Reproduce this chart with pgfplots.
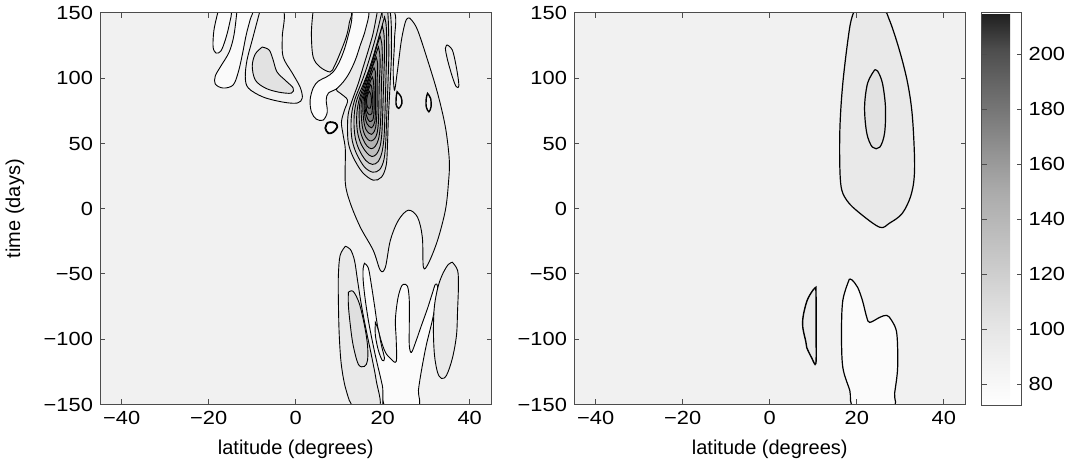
\documentclass[border=0pt]{standalone}
\usepackage{fontspec}
\setmainfont{Liberation Sans}
\newfontfamily\tickfont[FakeStretch=1.15]{Liberation Sans}
\usepackage{pgfplots}
\pgfplotsset{compat=1.18}
\pgfplotsset{
  colormap={mat}{gray(0cm)=(1); gray(1cm)=(0.955); gray(2cm)=(0.91); gray(3cm)=(0.855); gray(4cm)=(0.79); gray(5cm)=(0.73); gray(6cm)=(0.67); gray(7cm)=(0.585); gray(8cm)=(0.49); gray(9cm)=(0.40); gray(10cm)=(0.30); gray(11cm)=(0.12)},
  cbase/.style={scale only axis, width=195.75pt, height=195.75pt,
    xmin=-45, xmax=45, ymin=-150, ymax=150,
    xtick={-40,-20,0,20,40}, xticklabels={−40,−20,0,20,40},
    ytick={-150,-100,-50,0,50,100,150}, yticklabels={−150,−100,−50,0,50,100,150},
    tick align=inside, tick pos=both, major tick length=2.5pt,
    axis background/.style={fill=black!5.5},
    axis on top,
    axis line style={black!70, line width=0.5pt},
    every tick/.style={black!70, line width=0.5pt},
    tick label style={font=\tickfont\fontsize{9.5}{11}\selectfont, text=black},
    label style={font=\fontsize{9}{10}\selectfont},
    xlabel={latitude (degrees)},
    every axis x label/.style={at={(axis description cs:0.5,-0.114)}, anchor=center},
  },
  reg/.style={draw=black, line width=0.45pt, smooth, tension=0.55, fill=#1},
}
\begin{document}
\begin{tikzpicture}
\path[use as bounding box] (0,0) rectangle (536pt,232.5pt);
% ---------------- left panel ----------------
\begin{axis}[cbase, at={(50pt,30.25pt)}, anchor=south west, ylabel={time (days)},
  every axis y label/.style={at={(axis description cs:-0.217,0.5)}, rotate=90, anchor=center}]
% ring c
\addplot[reg=black!5.5] coordinates {(-8.2,152) (-10.0,129.3) (-11.2,114.0) (-11.6,100.9) (-10.9,92.5) (-7.5,85.6) (-2.9,81.7) (0.35,81.0) (1.5,84.8) (1.0,93.2) (-0.8,104.0) (-2.9,116.3) (-3.1,131.6) (-2.9,152) (-8.2,152)} -- cycle;
% lobe a
\addplot[reg=black!2] coordinates {(-17.8,152) (-18.8,137.0) (-19.0,123.9) (-18.3,119.3) (-17.2,120.9) (-16.2,129.3) (-15.3,140.8) (-14.9,152) (-17.8,152)} -- cycle;
% band b
\addplot[reg=black!2] coordinates {(-13.5,152) (-14.2,133.1) (-15.3,120.1) (-17.2,109.4) (-18.5,101.7) (-18.5,95.5) (-16.7,92.5) (-14.4,94.8) (-13.2,104.8) (-12.3,117.8) (-11.4,133.1) (-10.5,144.7) (-10.0,152) (-13.5,152)} -- cycle;
% D1
\addplot[reg=black!11.5] coordinates {(-7.7,123.9) (-9.3,118.6) (-10.0,109.4) (-9.3,98.6) (-7.0,92.5) (-4.0,89.4) (-1.0,88.6) (-0.6,92.5) (-2.2,97.8) (-4.3,104.8) (-5.2,114.0) (-6.1,121.6) (-7.7,123.9)} -- cycle;
% G1 big tongue
\addplot[reg=black!8.5] coordinates {(15.3,152) (22.4,152) (22.7,129.3) (22.4,106.3) (22.7,90.9) (23.4,106.3) (24.3,129.3) (25.2,143.1) (25.9,146.2) (26.6,144.7) (28.0,137.0) (30.3,114.0) (32.6,88.6) (34.4,62.6) (35.3,37.2) (35.1,19.6) (34.4,-1.1) (32.6,-24.2) (30.5,-41.8) (29.35,-44.9) (29.1,-21.8) (28.0,-6.5) (25.9,-1.1) (23.6,-8.8) (21.75,-24.2) (20.6,-44.9) (19.45,-47.2) (17.8,-31.8) (14.85,-14.2) (12.55,4.2) (11.4,19.6) (11.4,44.9) (10.9,56.4) (10.5,66.4) (11.2,75.6) (11.9,83.3) (10.2,88.6) (9.3,91.7) (10.9,98.6) (12.55,110.1) (13.9,125.5) (14.85,140.8) (15.3,152)} -- cycle;
% D2
\addplot[reg=black!8.5] coordinates {(4.0,152) (3.6,134.7) (4.0,116.3) (5.6,108.6) (7.9,104.8) (8.9,109.4) (10.2,119.3) (11.6,131.6) (12.3,142.4) (12.3,152) (4.0,152)} -- cycle;
% W3 white diagonal band
\addplot[reg=black!1.5] coordinates {(13.0,152) (16.7,152) (16.0,137.0) (14.85,125.5) (13.7,114.0) (12.3,104.0) (10.9,97.1) (9.3,91.7) (7.5,88.6) (7.0,83.3) (7.25,74.1) (6.3,67.9) (4.7,68.7) (3.6,74.1) (3.3,83.3) (4.0,92.5) (5.2,97.8) (7.0,100.9) (8.6,104.8) (10.0,112.4) (11.2,122.4) (12.1,133.1) (12.8,143.1) (13.0,152)} -- cycle;
% small white blob
\addplot[reg=black!2, line width=0.9pt] coordinates {(7.25,65.6) (6.8,61.8) (7.5,57.9) (8.6,58.7) (9.55,62.6) (9.1,65.6) (7.9,66.4) (7.25,65.6)} -- cycle;
% ellipse at right
\addplot[reg=black!7] coordinates {(34.8,125.5) (36.0,121.6) (36.9,108.8) (37.5,94.8) (36.9,93.5) (36.0,101.1) (34.9,114.0) (34.4,122.9) (34.8,125.5)} -- cycle;
% peak contours
\addplot[reg=black!12.5] coordinates {(18.8,152) (17.8,134.7) (16.7,121.6) (15.5,108.6) (14.4,96.3) (13.0,83.3) (12.1,73.3) (11.9,62.6) (12.1,50.3) (13.2,39.5) (15.3,28.0) (17.8,21.9) (19.7,24.2) (20.8,33.4) (21.1,50.3) (21.3,70.2) (21.7,96.3) (22.0,121.6) (21.6,152) (18.8,152)} -- cycle;
\addplot[reg=black!16.5] coordinates {(19.9,152) (18.6,134) (17.4,120) (16.1,106) (14.9,95) (13.6,84) (12.9,74) (12.7,63) (13.0,52) (14.0,42) (15.8,32) (17.7,28) (19.3,30) (20.3,38) (20.7,52) (20.9,70) (21.2,96) (21.4,122) (21.1,152) (19.9,152)} -- cycle;
\addplot[reg=black!21] coordinates {(20.4,147) (19.5,136) (18.3,122) (17.0,108) (15.6,96) (14.1,84) (13.5,74) (13.4,64) (13.7,54) (14.6,45) (16.1,37) (17.6,34) (18.9,36) (19.8,43) (20.3,55) (20.5,72) (20.7,96) (20.9,122) (20.8,140) (20.4,147)} -- cycle;
\addplot[reg=black!25.5] coordinates {(19.9,140) (19.0,130) (17.9,117) (16.6,104) (15.6,94) (14.6,84) (14.1,75) (14.0,66) (14.3,57) (15.1,49) (16.3,43) (17.5,40) (18.6,42) (19.4,48) (19.8,58) (20.0,74) (20.2,96) (20.4,118) (20.3,133) (19.9,140)} -- cycle;
\addplot[reg=black!30] coordinates {(19.4,132) (18.6,124) (17.6,112) (16.5,101) (15.7,92) (14.9,84) (14.6,76) (14.6,68) (14.8,60) (15.5,53) (16.4,48) (17.4,46) (18.3,48) (19.0,53) (19.4,62) (19.6,76) (19.7,96) (19.9,114) (19.8,126) (19.4,132)} -- cycle;
\addplot[reg=black!35] coordinates {(19.0,124) (18.3,117) (17.4,107) (16.5,98) (15.8,90) (15.2,84) (15.0,77) (15.1,70) (15.3,63) (15.8,57) (16.6,53) (17.4,52) (18.2,54) (18.7,58) (19.0,66) (19.1,78) (19.2,96) (19.4,110) (19.3,119) (19.0,124)} -- cycle;
\addplot[reg=black!40] coordinates {(18.5,116) (17.9,111) (17.1,103) (16.4,95) (15.9,89) (15.5,84) (15.4,78) (15.5,72) (15.7,66) (16.1,61) (16.8,58) (17.4,57) (18.0,59) (18.4,63) (18.6,70) (18.7,80) (18.7,96) (18.8,106) (18.8,112) (18.5,116)} -- cycle;
\addplot[reg=black!45] coordinates {(18.0,108) (17.5,104) (16.9,98) (16.4,92) (16.0,88) (15.8,84) (15.7,79) (15.8,74) (16.0,69) (16.4,65) (16.9,63) (17.4,62) (17.9,64) (18.2,67) (18.3,73) (18.3,82) (18.3,94) (18.3,101) (18.3,105) (18.0,108)} -- cycle;
\addplot[reg=black!50] coordinates {(17.6,101) (17.2,98) (16.8,94) (16.4,90) (16.1,87) (16.0,84) (15.9,80) (16.0,76) (16.2,72) (16.5,69) (16.9,67) (17.3,67) (17.7,68) (17.9,71) (18.0,76) (18.0,82) (18.0,90) (17.9,96) (17.8,99) (17.6,101)} -- cycle;
\addplot[reg=black!55] coordinates {(17.2,95) (16.9,93) (16.6,90) (16.4,88) (16.2,86) (16.1,84) (16.1,81) (16.2,78) (16.3,75) (16.6,73) (16.9,72) (17.2,72) (17.5,73) (17.6,76) (17.7,79) (17.7,84) (17.6,89) (17.5,92) (17.4,94) (17.2,95)} -- cycle;
\addplot[reg=black!60] coordinates {(16.9,90) (16.5,87) (16.3,84) (16.3,81) (16.5,78) (16.8,77) (17.1,77) (17.3,79) (17.4,83) (17.3,87) (17.1,89) (16.9,90)} -- cycle;
% small blobs inside tongue
\addplot[reg=black!5.5, line width=0.7pt] coordinates {(23.3,89.6) (24.2,85.8) (24.4,80.7) (23.7,76.9) (23.1,79.4) (23.1,85.8) (23.3,89.6)} -- cycle;
\addplot[reg=black!5.5, line width=0.7pt] coordinates {(30.3,88.4) (31.0,84.6) (31.1,78.1) (30.6,74.3) (30.0,78.1) (30.0,84.6) (30.3,88.4)} -- cycle;
% lower fingers
\addplot[reg=black!8.5] coordinates {(11.4,-28.8) (12.55,-31.1) (13.5,-39.5) (14.2,-54.8) (15.1,-74.0) (16.2,-93.2) (17.4,-112.4) (18.5,-131.6) (19.2,-152) (13.5,-152) (11.6,-139.2) (10.5,-120.1) (10.0,-97.0) (9.8,-70.2) (9.8,-51.0) (10.2,-35.7) (11.4,-28.8)} -- cycle;
\addplot[reg=black!12.5] coordinates {(12.1,-64.0) (13.2,-63.3) (14.6,-72.5) (15.8,-89.4) (16.5,-104.7) (16.5,-116.2) (15.8,-120.8) (14.4,-119.3) (13.2,-104.7) (12.55,-89.4) (12.1,-74.0) (12.1,-64.0)} -- cycle;
\addplot[reg=black!1.5] coordinates {(15.8,-41.8) (16.7,-45.6) (17.4,-58.7) (18.1,-74.0) (19.0,-93.2) (20.4,-108.6) (21.75,-114.7) (23.1,-117.0) (23.1,-100.9) (22.9,-85.5) (23.4,-70.2) (24.1,-61.0) (24.75,-57.9) (25.7,-59.5) (26.1,-70.2) (26.1,-89.4) (26.1,-104.7) (26.6,-110.1) (27.7,-100.9) (28.9,-89.4) (30.3,-76.3) (31.4,-64.8) (32.1,-57.9) (32.6,-59.5) (32.3,-70.2) (31.4,-85.5) (30.0,-104.7) (28.9,-123.9) (28.2,-139.2) (28.0,-152) (20.8,-152) (19.9,-135.4) (18.3,-112.4) (16.9,-89.4) (16.0,-70.2) (15.5,-54.8) (15.5,-45.6) (15.8,-41.8)} -- cycle;
\addplot[reg=black!5.5] coordinates {(18.3,-87.1) (19.0,-93.2) (19.7,-104.7) (20.4,-114.7) (19.9,-116.2) (19.0,-108.6) (18.3,-97.0) (18.3,-87.1)} -- cycle;
\addplot[reg=black!8.5] coordinates {(36.0,-41.0) (37.2,-47.2) (37.4,-58.7) (37.2,-77.9) (36.95,-97.0) (36.0,-114.7) (34.65,-127.7) (33.5,-130.0) (32.6,-125.4) (31.9,-112.4) (31.65,-93.2) (31.9,-74.0) (32.8,-58.7) (33.95,-48.7) (35.1,-42.6) (36.0,-41.0)} -- cycle;
\end{axis}
% ---------------- right panel ----------------
\begin{axis}[cbase, at={(287pt,30.25pt)}, anchor=south west,
  colormap name=mat, point meta min=72, point meta max=215,
  colorbar,
  colorbar style={scale only axis, width=20pt, height=196.5pt,
    at={(parent axis.north east)}, anchor=north west, xshift=-0.5pt,
    ytick={80,100,120,140,160,180,200}, yticklabels={80,100,120,140,160,180,200},
    yticklabel pos=right, ytick pos=both, tick align=inside, major tick length=2.5pt,
    axis line style={black!70, line width=0.5pt},
    every tick/.style={black!70, line width=0.5pt},
    tick label style={font=\tickfont\fontsize{9.5}{11}\selectfont, text=black}}]
\addplot[reg=black!8.5, line width=0.6pt] coordinates {(19.5,152) (18.4,139.3) (16.8,96.3) (16.1,58.0) (16.3,19.6) (17.7,6.5) (20.7,-3.4) (25.3,-14.2) (27.5,-11.1) (30.5,-3.4) (32.6,11.9) (33.3,31.9) (32.8,70.2) (31.7,96.3) (29.8,121.6) (27.5,144.7) (25.9,152) (19.5,152)} -- cycle;
\addplot[reg=black!11.5, line width=0.6pt] coordinates {(24.1,106.3) (22.5,96.3) (21.8,77.9) (22.3,58.0) (23.6,47.2) (25.3,47.2) (26.4,58.0) (26.6,77.9) (25.9,96.3) (24.8,105.5) (24.1,106.3)} -- cycle;
\addplot[reg=black!8.5, line width=0.7pt] coordinates {(10.6,-60.2) (9.9,-62.5) (8.6,-70.2) (7.7,-82) (7.6,-90.9) (8.3,-102) (8.5,-106.3) (9.6,-114) (10.6,-118.5) (10.65,-95) (10.65,-70) (10.6,-60.2)} -- cycle;
\addplot[reg=black!1.5, line width=0.6pt] coordinates {(18.3,-54.0) (16.8,-70.2) (16.5,-95.5) (16.8,-121.6) (18.4,-139.2) (19.5,-152) (28.2,-152) (28.7,-141.5) (29.4,-121.6) (29.2,-95.5) (28.0,-85.5) (26.9,-81.7) (25.3,-83.2) (23.0,-87.1) (22.3,-83.2) (21.3,-70.2) (20.2,-60.2) (18.9,-54.5) (18.3,-54.0)} -- cycle;
\end{axis}
\end{tikzpicture}
\end{document}
